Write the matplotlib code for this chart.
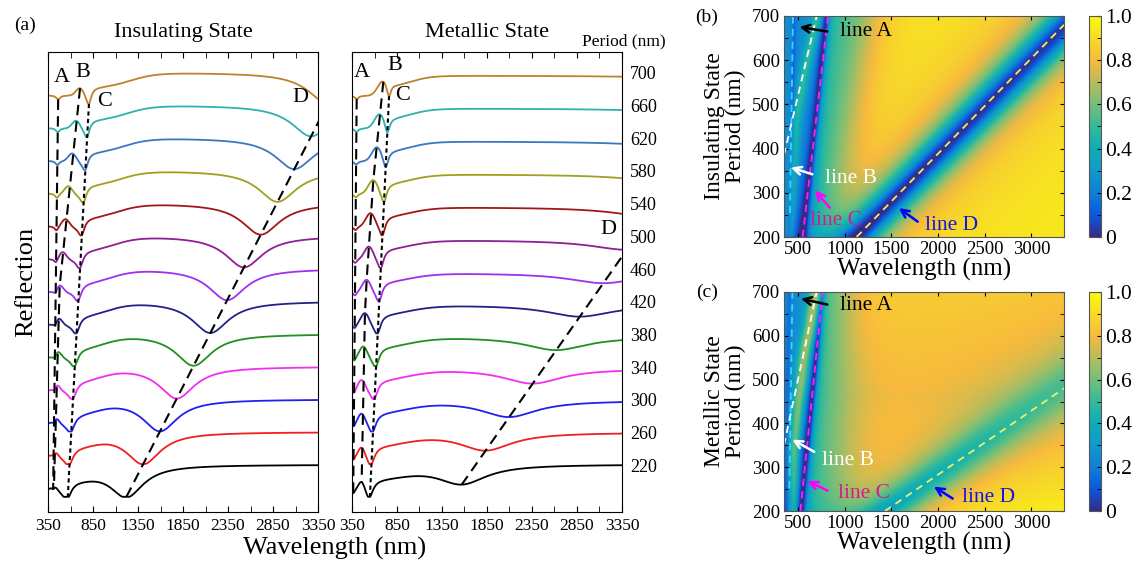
import numpy as np
import matplotlib
matplotlib.use("Agg")
import matplotlib.pyplot as plt
from matplotlib.colors import LinearSegmentedColormap
from matplotlib.ticker import MultipleLocator

plt.rcParams["font.family"] = ["Liberation Serif", "DejaVu Serif"]
plt.rcParams["xtick.direction"] = "in"
plt.rcParams["ytick.direction"] = "in"

# periods of the stacked spectra (bottom -> top) and their colours
periods = [220, 260, 300, 340, 380, 420, 460, 500, 540, 580, 620, 660, 700]
curve_colors = ["#000000", "#f02020", "#2020f0", "#f030f0", "#209020", "#22228a",
                "#a030f0", "#8e1f94", "#a01818", "#a0a020", "#3a78c0", "#30b0b0", "#c08030"]

# resonance positions (nm) at period 200 / 700 nm
p_ends = [200, 700]
p_three = [200, 460, 700]
ins_A = [405, 463]
ins_C = [560, 805]
ins_D = [1128, 3460]
ins_B_p = [200, 460, 580, 700]
ins_B = [410, 480, 576, 706]
met_A = [362, 402]
met_C = [540, 762]
met_D = [1438, 4713]
met_B_p = [200, 340, 380, 420, 460, 500, 540, 580, 620, 660, 700]
met_B = [457, 457, 476, 494, 513, 539, 557, 587, 631, 661, 698]

# dip depths, half widths and background levels (period 200 / 700 nm)
ins_A_depth = [0.15, 0.12]
ins_A_hw = [22, 25]
ins_B_height = [0.18, 0.25]
ins_B_sigma = [32, 45]
ins_C_depth = [0.40, 0.40]
ins_C_hw = [60, 35]
ins_D_depth = [0.95, 0.92]
ins_D_hw = [230, 265]
ins_low = [0.30, 0.28]
ins_mid = [0.50, 0.50]
ins_high = [0.95, 0.95]
ins_rise_off = [260, 460]
ins_rise_w = [130, 140]

met_A_depth = [0.12, 0.10]
met_A_hw = [22, 25]
met_B_height = [0.28, 0.48]
met_B_sigma = [35, 60]
met_C_depth = [0.40, 0.45]
met_C_hw = [55, 32]
met_D_depth = [0.60, 0.30, 0.22]
met_D_hw = [330, 460, 560]
met_low = [0.27, 0.27]
met_mid = [0.50, 0.55]
met_high = [0.97, 0.82, 0.86]
met_rise_off = [400, 260]
met_rise_w = [200, 110]

# dashed guide lines drawn on the maps (period, wavelength)
map_lines_ins = {"A": ([254, 700], [414, 446]), "B": ([385, 700], [350, 700]),
                 "C": ([200, 700], [550, 821]), "D": ([200, 680], [1128, 3350])}
map_lines_met = {"A": ([252, 700], [408, 440]), "B": ([350, 700], [350, 700]),
                 "C": ([200, 700], [526, 764]), "D": ([200, 480], [1432, 3350])}

# parula-like colour map
parula_colors = [(0.208, 0.166, 0.529), (0.040, 0.350, 0.870), (0.060, 0.500, 0.840),
                 (0.070, 0.600, 0.800), (0.050, 0.680, 0.720), (0.200, 0.730, 0.600),
                 (0.450, 0.750, 0.480), (0.720, 0.740, 0.360), (0.970, 0.730, 0.240),
                 (0.970, 0.850, 0.160), (0.976, 0.983, 0.054)]
parula = LinearSegmentedColormap.from_list("parula", parula_colors)

ins = {"A": (p_ends, ins_A), "B": (ins_B_p, ins_B), "C": (p_ends, ins_C), "D": (p_ends, ins_D),
       "Ad": (p_ends, ins_A_depth), "Aw": (p_ends, ins_A_hw), "Bh": (p_ends, ins_B_height),
       "Bs": (p_ends, ins_B_sigma), "Cd": (p_ends, ins_C_depth), "Cw": (p_ends, ins_C_hw),
       "Dd": (p_ends, ins_D_depth), "Dw": (p_ends, ins_D_hw), "lo": (p_ends, ins_low),
       "mid": (p_ends, ins_mid), "hi": (p_ends, ins_high), "off": (p_ends, ins_rise_off),
       "rw": (p_ends, ins_rise_w)}
met = {"A": (p_ends, met_A), "B": (met_B_p, met_B), "C": (p_ends, met_C), "D": (p_ends, met_D),
       "Ad": (p_ends, met_A_depth), "Aw": (p_ends, met_A_hw), "Bh": (p_ends, met_B_height),
       "Bs": (p_ends, met_B_sigma), "Cd": (p_ends, met_C_depth), "Cw": (p_ends, met_C_hw),
       "Dd": (p_three, met_D_depth), "Dw": (p_three, met_D_hw), "lo": (p_ends, met_low),
       "mid": (p_ends, met_mid), "hi": (p_three, met_high), "off": (p_ends, met_rise_off),
       "rw": (p_ends, met_rise_w)}


def at(P, s, key):
    return np.interp(P, s[key][0], s[key][1])


def lor(x, x0, w):
    return 1.0 / (1.0 + ((x - x0) / w) ** 2)


def sig(x):
    return 1.0 / (1.0 + np.exp(-x))


def reflection(lam, P, s):
    P = np.asarray(P, float)
    if P.ndim:
        P = P[:, None]
    lC = at(P, s, "C")
    R = at(P, s, "lo") + (at(P, s, "mid") - at(P, s, "lo")) * sig((lam - lC) / 15.0)
    R = R + (at(P, s, "hi") - at(P, s, "mid")) * sig((lam - lC - at(P, s, "off")) / at(P, s, "rw"))
    R = R + at(P, s, "Bh") * np.exp(-0.5 * ((lam - at(P, s, "B")) / at(P, s, "Bs")) ** 2)
    R = R - at(P, s, "Ad") * lor(lam, at(P, s, "A"), at(P, s, "Aw"))
    R = R - at(P, s, "Cd") * lor(lam, lC, at(P, s, "Cw"))
    R = R - at(P, s, "Dd") * lor(lam, at(P, s, "D"), at(P, s, "Dw"))
    return np.clip(R, 0.0, 1.0)


fig = plt.figure(figsize=(11.38, 5.65), dpi=100)
W, H = 1138.0, 565.0

lam = np.linspace(350, 3350, 1501)
step = 0.97


def spectra_panel(rect, s, title, guides, letters):
    ax = fig.add_axes(rect)
    for i, (p, c) in enumerate(zip(periods, curve_colors)):
        ax.plot(lam, reflection(lam, p, s) + i * step, color=c, lw=1.3)
    for key, ps, style in guides:
        gx = [float(at(p, s, key)) for p in ps]
        gy = [float(reflection(x, p, s)) + periods.index(p) * step for x, p in zip(gx, ps)]
        ax.plot(gx, gy, color="black", lw=1.5, ls=style)
    for t, x, y in letters:
        ax.text(x, y, t, fontsize=16, ha="center", va="center")
    ax.set_xlim(350, 3350)
    ax.set_ylim(-0.45, 13.2)
    ax.set_yticks([])
    ax.set_xticks(np.arange(350, 3351, 500))
    ax.set_xticks(np.arange(600, 3351, 500), minor=True)
    ax.tick_params(which="both", top=True, length=4, labelsize=12.5, pad=4)
    ax.set_title(title, fontsize=16, pad=11)
    return ax


dash = (0, (5, 3))
dot = (0, (2, 1.6))
ax1 = spectra_panel([48 / W, 1 - 512 / H, 270 / W, 460 / H], ins, "Insulating State",
                    [("A", [700, 220], dash), ("B", [700, 460, 220], dash),
                     ("C", [700, 220], dot), ("D", [220, 700], dash)],
                    [("A", 502, 12.43), ("B", 739, 12.6), ("C", 983, 11.72), ("D", 3150, 11.84)])
ax1.set_ylabel("Reflection", fontsize=19, labelpad=8)

ax2 = spectra_panel([352 / W, 1 - 512 / H, 270 / W, 460 / H], met, "Metallic State",
                    [("A", [700, 220], dash), ("B", [700, 580, 460, 420, 220], dash),
                     ("C", [700, 220], dot), ("D", [220, 500], dash)],
                    [("A", 458, 12.6), ("B", 828, 12.81), ("C", 917, 11.92), ("D", 3194, 7.92)])
for i, p in enumerate(periods):
    ax2.text(1.03, (i * step + 0.88 + 0.45) / 13.65, str(p), transform=ax2.transAxes,
             fontsize=13, ha="left", va="center")
ax2.text(1.007, 1.024, "Period (nm)", transform=ax2.transAxes, fontsize=12.5, ha="center", va="center")

fig.text(335 / W, 1 - 548 / H, "Wavelength (nm)", fontsize=19, ha="center", va="center")
fig.text(25 / W, 1 - 25 / H, "(a)", fontsize=14, ha="center", va="center")
fig.text(707 / W, 1 - 17 / H, "(b)", fontsize=14, ha="center", va="center")
fig.text(707 / W, 1 - 292 / H, "(c)", fontsize=14, ha="center", va="center")

# maps
lam_map = np.linspace(350, 3350, 601)
p_map = np.arange(200, 701, 2)

line_styles = {"A": "#40d0ff", "B": "white", "C": "#ff20ff", "D": "#f0f060"}


def map_panel(rect, crect, s, lines, ylabel, notes):
    ax = fig.add_axes(rect)
    R = reflection(lam_map, p_map, s)
    im = ax.imshow(R, extent=[350, 3350, 200, 700], origin="lower", aspect="auto",
                   cmap=parula, vmin=0, vmax=1, interpolation="bilinear")
    for key, (pp, ll) in lines.items():
        ax.plot(ll, pp, color=line_styles[key], lw=1.3, ls=(0, (4, 3)))
    for text, tpos, head, tail, acol, tcol in notes:
        ax.annotate("", xy=head, xytext=tail,
                    arrowprops=dict(arrowstyle="->", color=acol, lw=1.8, mutation_scale=14))
        ax.text(tpos[0], tpos[1], text, color=tcol, fontsize=15.5, ha="left", va="center")
    ax.set_xlim(350, 3350)
    ax.set_ylim(200, 700)
    ax.set_xticks(np.arange(500, 3001, 500))
    ax.set_yticks(np.arange(200, 701, 100))
    ax.yaxis.set_minor_locator(MultipleLocator(50))
    ax.tick_params(which="both", top=True, right=True, length=3, labelsize=13.5, pad=3)
    ax.set_xlabel("Wavelength (nm)", fontsize=18, labelpad=0)
    ax.set_ylabel(ylabel, fontsize=17, labelpad=4, linespacing=1.0)
    for sp in ax.spines.values():
        sp.set_color("#555555")
    cax = fig.add_axes(crect)
    cb = fig.colorbar(im, cax=cax)
    cb.set_ticks([0, 0.2, 0.4, 0.6, 0.8, 1.0])
    cb.set_ticklabels(["0", "0.2", "0.4", "0.6", "0.8", "1.0"])
    cax.yaxis.set_minor_locator(MultipleLocator(0.1))
    cax.tick_params(which="both", direction="in", length=3, labelsize=15.5, pad=3)
    cb.outline.set_edgecolor("#555555")
    return ax


map_panel([784 / W, 1 - 237 / H, 280 / W, 221 / H], [1089 / W, 1 - 237 / H, 12 / W, 221 / H],
          ins, map_lines_ins, "Insulating State\nPeriod (nm)",
          [("line A", (950, 664), (486, 676), (843, 664), "black", "black"),
           ("line B", (789, 333), (396, 359), (682, 340), "white", "white"),
           ("line C", (629, 238), (664, 310), (861, 261), "#ff00ff", "#d81b8c"),
           ("line D", (1861, 227), (1557, 269), (1807, 231), "#0000ff", "#1515e0")])

map_panel([784 / W, 1 - 511 / H, 280 / W, 219 / H], [1089 / W, 1 - 511 / H, 12 / W, 219 / H],
          met, map_lines_met, "Metallic State\nPeriod (nm)",
          [("line A", (950, 670), (503, 686), (843, 670), "black", "black"),
           ("line B", (753, 316), (414, 366), (700, 332), "white", "white"),
           ("line C", (929, 241), (575, 271), (843, 244), "#ff00ff", "#d81b8c"),
           ("line D", (2254, 230), (1932, 259), (2182, 225), "#0000ff", "#1515e0")])

fig.savefig("out.png", dpi=100)
